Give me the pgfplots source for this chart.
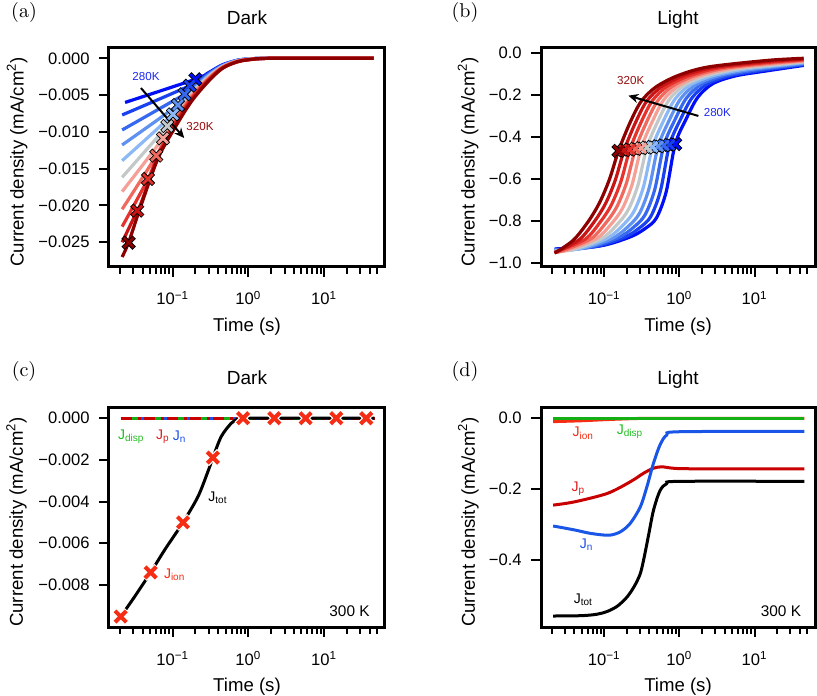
\documentclass[border=0pt]{standalone}
\usepackage{fontspec}
\setsansfont{Liberation Sans}
\usepackage{pgfplots}
\pgfplotsset{compat=1.18}
\usepackage{pgfplotstable}
\usetikzlibrary{arrows.meta}

\definecolor{c0}{RGB}{0,15,245}
\definecolor{c1}{RGB}{25,65,240}
\definecolor{c2}{RGB}{55,105,240}
\definecolor{c3}{RGB}{95,145,240}
\definecolor{c4}{RGB}{140,185,245}
\definecolor{c5}{RGB}{195,200,200}
\definecolor{c6}{RGB}{245,160,150}
\definecolor{c7}{RGB}{240,105,95}
\definecolor{c8}{RGB}{230,50,45}
\definecolor{c9}{RGB}{200,20,20}
\definecolor{c10}{RGB}{140,0,0}
\definecolor{kblue}{RGB}{30,40,240}
\definecolor{kred}{RGB}{150,10,10}
\definecolor{jgreen}{RGB}{20,175,20}
\definecolor{jp}{RGB}{200,0,0}
\definecolor{jion}{RGB}{245,45,20}
\definecolor{jblue}{RGB}{25,85,230}
\definecolor{tgreen}{RGB}{30,190,30}
\definecolor{tred}{RGB}{220,30,30}
\definecolor{tblue}{RGB}{30,80,230}

\tikzset{
  klab/.style={font=\sffamily\fontsize{5.8}{7}\selectfont},
  jlab/.style={font=\sffamily\fontsize{7}{8}\selectfont},
  tlab/.style={font=\sffamily\fontsize{7.7}{9}\selectfont, anchor=east},
  plab/.style={font=\fontsize{10}{12}\selectfont},
}

\pgfplotsset{
  colormap={tw}{rgb255=(0,15,245) rgb255=(25,65,240) rgb255=(55,105,240)
    rgb255=(95,145,240) rgb255=(140,185,245) rgb255=(195,200,200)
    rgb255=(245,160,150) rgb255=(240,105,95) rgb255=(230,50,45)
    rgb255=(200,20,20) rgb255=(140,0,0)},
  igorpanel/.style={
    scale only axis,
    height=109.5pt,
    xmin=0.01442, xmax=63.7,
    xtick={0.1,1,10},
    xticklabels={10\textsuperscript{−1},10\textsuperscript{0},10\textsuperscript{1}},
    minor xtick={0.02,0.03,0.04,0.05,0.06,0.07,0.08,0.09,0.2,0.3,0.4,0.5,0.6,0.7,0.8,0.9,2,3,4,5,6,7,8,9,20,30,40,50},
    tick align=inside, xtick pos=left, ytick pos=left,
    major tick length=-5pt, minor tick length=-3.5pt,
    every tick/.append style={black, line width=1pt},
    axis line style={line width=1.5pt},
    tick label style={font=\sffamily\fontsize{8.3}{10}\selectfont},
    xticklabel style={anchor=base, yshift=-19pt},
    yticklabel style={anchor=east, inner sep=0pt, xshift=-9.5pt},
    scaled y ticks=false,
    label style={font=\sffamily\fontsize{9.3}{11}\selectfont},
    xlabel={Time (s)},
    xlabel style={at={(axis description cs:0.5,-0.295)}, anchor=base},
    ylabel={Current density (mA/cm\textsuperscript{2})},
    title style={font=\sffamily\fontsize{9.5}{11}\selectfont,
      at={(axis description cs:0.5,1)}, anchor=base, yshift=5.65pt},
  },
  tcurve/.style={line width=1.6pt, smooth, tension=0.5},
}

\pgfplotstableread{
t y c
0.199 -0.00285 0
0.168 -0.00372 1
0.144 -0.00489 2
0.1175 -0.00635 3
0.101 -0.00761 4
0.0849 -0.0092 5
0.0745 -0.01087 6
0.0607 -0.01323 7
0.0472 -0.0164 8
0.0341 -0.0207 9
0.0262 -0.02505 10
}\marksA

\pgfplotstableread{
t y c
0.879 -0.433 0
0.739 -0.436 1
0.621 -0.439 2
0.522 -0.443 3
0.439 -0.446 4
0.369 -0.449 5
0.310 -0.452 6
0.2607 -0.455 7
0.2192 -0.459 8
0.1842 -0.462 9
0.1549 -0.465 10
}\marksB

\begin{document}
\begin{tikzpicture}
\path[use as bounding box] (0,0) rectangle (408.5pt,347.5pt);

% (a) dark, temperature series
\begin{axis}[xmode=log, igorpanel, at={(54.5pt,214pt)}, anchor=south west, width=138pt,
  ymin=-0.02836, ymax=0.0014,
  ytick={-0.025,-0.02,-0.015,-0.01,-0.005,0},
  yticklabels={−0.025,−0.020,−0.015,−0.010,−0.005,0.000},
  ylabel style={at={(axis description cs:-0.333,0.48)}, anchor=center},
  title={Dark}]
\addplot[tcurve, c0] coordinates {(0.0235,-0.0060) (0.199,-0.00285) (0.292,-0.0020) (0.45,-0.0009) (0.7,-0.0003) (1.0,-0.0001) (2,0) (45,0)};
\addplot[tcurve, c1] coordinates {(0.0215,-0.0077) (0.168,-0.00372) (0.292,-0.00212) (0.45,-0.00095) (0.7,-0.0003) (1,-0.0001) (2,0) (45,0)};
\addplot[tcurve, c2] coordinates {(0.0215,-0.00974) (0.144,-0.00489) (0.176,-0.0042) (0.292,-0.00224) (0.45,-0.0010) (0.7,-0.0003) (1,-0.0001) (2,0) (45,0)};
\addplot[tcurve, c3] coordinates {(0.0215,-0.01178) (0.1175,-0.00635) (0.176,-0.0045) (0.292,-0.00236) (0.45,-0.00105) (0.7,-0.0003) (1,-0.0001) (2,0) (45,0)};
\addplot[tcurve, c4] coordinates {(0.0215,-0.01391) (0.101,-0.00761) (0.176,-0.0047) (0.292,-0.00248) (0.45,-0.0011) (0.7,-0.0004) (1,-0.0001) (2,0) (45,0)};
\addplot[tcurve, c5] coordinates {(0.0215,-0.01617) (0.0849,-0.0092) (0.106,-0.0080) (0.176,-0.0049) (0.292,-0.0026) (0.45,-0.00115) (0.7,-0.0004) (1,-0.00015) (2,0) (45,0)};
\addplot[tcurve, c6] coordinates {(0.0215,-0.01812) (0.0745,-0.01087) (0.106,-0.0083) (0.176,-0.0051) (0.292,-0.00272) (0.45,-0.0012) (0.7,-0.0004) (1,-0.00015) (2,0) (45,0)};
\addplot[tcurve, c7] coordinates {(0.0215,-0.02052) (0.0607,-0.01323) (0.106,-0.0086) (0.176,-0.0053) (0.292,-0.00284) (0.45,-0.00125) (0.7,-0.0004) (1,-0.00015) (2,0) (45,0)};
\addplot[tcurve, c8] coordinates {(0.0215,-0.02288) (0.0472,-0.0164) (0.064,-0.0131) (0.106,-0.0089) (0.176,-0.0055) (0.292,-0.00296) (0.45,-0.0013) (0.7,-0.0005) (1,-0.0002) (2,0) (45,0)};
\addplot[tcurve, c9] coordinates {(0.0215,-0.0250) (0.0341,-0.0207) (0.0385,-0.0196) (0.064,-0.0134) (0.106,-0.0092) (0.176,-0.0057) (0.292,-0.00308) (0.45,-0.00135) (0.7,-0.0005) (1,-0.0002) (2,0) (45,0)};
\addplot[tcurve, c10] coordinates {(0.0215,-0.0270) (0.0262,-0.0250) (0.0385,-0.0199) (0.064,-0.0136) (0.106,-0.0095) (0.176,-0.0059) (0.292,-0.0032) (0.45,-0.0014) (0.7,-0.0005) (1,-0.0002) (2,0) (45,0)};
\addplot[only marks, mark=x, mark size=3.9pt, mark options={line width=2.3pt, draw=black}] table[x=t, y=y] {\marksA};
\addplot[scatter, only marks, mark=x, mark size=3.5pt, colormap name=tw,
  point meta=explicit, point meta min=0, point meta max=10,
  scatter/use mapped color={draw=mapped color},
  mark options={line width=1.4pt}] table[x=t, y=y, meta=c] {\marksA};
\draw[line width=1pt, -{Stealth[length=5pt,width=4.5pt]}] (axis cs:0.0381,-0.00404) -- (axis cs:0.142,-0.01083);
\node[klab, text=kblue] at (axis cs:0.0444,-0.00254) {280K};
\node[klab, text=kred] at (axis cs:0.2296,-0.00933) {320K};
\end{axis}

% (b) light, temperature series
\begin{axis}[xmode=log, igorpanel, at={(270.5pt,214pt)}, anchor=south west, width=137pt,
  ymin=-1.018, ymax=0.025,
  ytick={-1,-0.8,-0.6,-0.4,-0.2,0},
  yticklabels={−1.0,−0.8,−0.6,−0.4,−0.2,0.0},
  ylabel style={at={(axis description cs:-0.266,0.48)}, anchor=center},
  title={Light}]
\addplot[tcurve, c0] coordinates {(0.0219,-0.932) (0.0879,-0.918) (0.221,-0.875) (0.350,-0.835) (0.494,-0.785) (0.667,-0.660) (0.879,-0.433) (1.242,-0.310) (1.754,-0.210) (2.780,-0.145) (5.546,-0.108) (13.93,-0.085) (45,-0.058)};
\addplot[tcurve, c1] coordinates {(0.0219,-0.934) (0.0739,-0.922) (0.1856,-0.877) (0.294,-0.832) (0.4155,-0.778) (0.561,-0.654) (0.739,-0.436) (1.044,-0.312) (1.474,-0.212) (2.336,-0.147) (4.663,-0.108) (11.71,-0.083) (45,-0.0546)};
\addplot[tcurve, c2] coordinates {(0.0219,-0.936) (0.0621,-0.925) (0.156,-0.878) (0.247,-0.828) (0.349,-0.770) (0.471,-0.648) (0.621,-0.439) (0.877,-0.315) (1.239,-0.214) (1.965,-0.148) (3.921,-0.107) (9.845,-0.081) (45,-0.0512)};
\addplot[tcurve, c3] coordinates {(0.0219,-0.938) (0.0522,-0.929) (0.131,-0.880) (0.208,-0.825) (0.294,-0.763) (0.396,-0.642) (0.522,-0.443) (0.7375,-0.317) (1.042,-0.216) (1.651,-0.150) (3.295,-0.107) (8.276,-0.079) (45,-0.0478)};
\addplot[tcurve, c4] coordinates {(0.0219,-0.940) (0.0439,-0.933) (0.110,-0.881) (0.1747,-0.821) (0.247,-0.755) (0.333,-0.636) (0.439,-0.446) (0.620,-0.319) (0.876,-0.218) (1.388,-0.151) (2.769,-0.107) (6.957,-0.077) (15,-0.0634) (45,-0.0444)};
\addplot[tcurve, c5] coordinates {(0.0219,-0.942) (0.0369,-0.9365) (0.0927,-0.8825) (0.147,-0.8175) (0.2075,-0.7475) (0.280,-0.630) (0.369,-0.449) (0.521,-0.3215) (0.736,-0.220) (1.167,-0.1525) (2.328,-0.1065) (5.848,-0.075) (15,-0.0585) (45,-0.041)};
\addplot[tcurve, c6] coordinates {(0.0219,-0.944) (0.0310,-0.940) (0.0779,-0.884) (0.1235,-0.814) (0.1744,-0.740) (0.2353,-0.624) (0.310,-0.452) (0.438,-0.324) (0.619,-0.222) (0.981,-0.154) (1.957,-0.106) (4.915,-0.073) (15,-0.0536) (45,-0.0376)};
\addplot[tcurve, c7] coordinates {(0.0219,-0.946) (0.0261,-0.944) (0.0655,-0.8855) (0.1038,-0.8105) (0.1466,-0.7325) (0.1978,-0.618) (0.2607,-0.455) (0.368,-0.326) (0.520,-0.224) (0.8245,-0.1555) (1.645,-0.106) (4.132,-0.071) (15,-0.0487) (45,-0.0342)};
\addplot[tcurve, c8] coordinates {(0.0219,-0.948) (0.0551,-0.887) (0.0873,-0.807) (0.1233,-0.725) (0.1663,-0.612) (0.2192,-0.459) (0.310,-0.328) (0.437,-0.226) (0.693,-0.157) (1.383,-0.106) (3.474,-0.069) (15,-0.0438) (45,-0.0308)};
\addplot[tcurve, c9] coordinates {(0.0219,-0.950) (0.0463,-0.8885) (0.0733,-0.8035) (0.1036,-0.7175) (0.1398,-0.606) (0.1842,-0.462) (0.260,-0.331) (0.368,-0.228) (0.583,-0.1585) (1.163,-0.105) (2.920,-0.067) (15,-0.0389) (45,-0.0274)};
\addplot[tcurve, c10] coordinates {(0.0219,-0.952) (0.0389,-0.890) (0.0617,-0.800) (0.0871,-0.710) (0.1175,-0.600) (0.1549,-0.465) (0.2188,-0.333) (0.309,-0.230) (0.490,-0.160) (0.977,-0.105) (2.455,-0.065) (15,-0.034) (45,-0.024)};
\addplot[only marks, mark=x, mark size=3.9pt, mark options={line width=2.3pt, draw=black}] table[x=t, y=y] {\marksB};
\addplot[scatter, only marks, mark=x, mark size=3.5pt, colormap name=tw,
  point meta=explicit, point meta min=0, point meta max=10,
  scatter/use mapped color={draw=mapped color},
  mark options={line width=1.4pt}] table[x=t, y=y, meta=c] {\marksB};
\draw[line width=1pt, -{Stealth[length=5pt,width=4.5pt]}] (axis cs:1.79,-0.2986) -- (axis cs:0.2094,-0.2019);
\node[klab, text=kred] at (axis cs:0.2256,-0.132) {320K};
\node[klab, text=kblue] at (axis cs:3.2,-0.283) {280K};
\end{axis}

% (c) dark, components at 300 K
\begin{axis}[xmode=log, igorpanel, at={(54.5pt,34pt)}, anchor=south west, width=138pt,
  ymin=-0.01002, ymax=0.00049,
  ytick={-0.008,-0.006,-0.004,-0.002,0},
  yticklabels={−0.008,−0.006,−0.004,−0.002,0.000},
  ylabel style={at={(axis description cs:-0.335,0.48)}, anchor=center},
  title={Dark}]
\addplot[jblue, line width=1.5pt] coordinates {(0.0206,0) (46,0)};
\addplot[jp, line width=1.5pt, dash pattern=on 10pt off 1.5pt] coordinates {(0.0206,0) (46,0)};
\addplot[jgreen, line width=1.5pt, dash pattern=on 3pt off 8.5pt, dash phase=-5.5pt] coordinates {(0.0206,0) (46,0)};
\addplot[black, line width=1.5pt, smooth, tension=0.5] coordinates {(0.0206,-0.00952) (0.0315,-0.00856) (0.0512,-0.0074) (0.0784,-0.00632) (0.137,-0.0050) (0.216,-0.00376) (0.292,-0.00256) (0.34,-0.00189) (0.438,-0.00088) (0.594,-0.00024) (0.72,-0.00005) (0.85,0) (2,0) (46,0)};
\addplot[only marks, mark=x, mark size=4.4pt, mark options={line width=3.2pt, draw=white}] coordinates {(0.0206,-0.00952) (0.0512,-0.0074) (0.137,-0.0050) (0.34,-0.00189) (0.85,0) (2.2,0) (5.7,0) (14.5,0) (36,0)};
\addplot[only marks, mark=x, mark size=4pt, mark options={line width=2pt, draw=jion}] coordinates {(0.0206,-0.00952) (0.0512,-0.0074) (0.137,-0.0050) (0.34,-0.00189) (0.85,0) (2.2,0) (5.7,0) (14.5,0) (36,0)};
\node[jlab, text=tgreen] at (axis cs:0.0284,-0.00088) {J\textsubscript{disp}};
\node[jlab, text=tred] at (axis cs:0.0744,-0.00088) {J\textsubscript{p}};
\node[jlab, text=tblue] at (axis cs:0.1237,-0.00088) {J\textsubscript{n}};
\node[jlab, text=black] at (axis cs:0.3967,-0.00384) {J\textsubscript{tot}};
\node[jlab, text=jion] at (axis cs:0.1063,-0.00752) {J\textsubscript{ion}};
\node[tlab] at (rel axis cs:0.97,0.07) {300 K};
\end{axis}

% (d) light, components at 300 K
\begin{axis}[xmode=log, igorpanel, at={(270.5pt,34pt)}, anchor=south west, width=137pt,
  ymin=-0.589, ymax=0.029,
  ytick={-0.4,-0.2,0},
  yticklabels={−0.4,−0.2,0.0},
  ylabel style={at={(axis description cs:-0.265,0.48)}, anchor=center},
  title={Light}]
\addplot[jion, line width=1.5pt, smooth] coordinates {(0.0209,-0.0095) (0.05,-0.007) (0.1,-0.004) (0.2,-0.0015) (0.3,-0.0005) (0.5,0) (46,0)};
\addplot[jgreen, line width=1.5pt] coordinates {(0.0209,0) (46,0)};
\addplot[jp, line width=1.5pt, smooth, tension=0.5] coordinates {(0.0209,-0.245) (0.04,-0.236) (0.11,-0.212) (0.223,-0.179) (0.334,-0.155) (0.452,-0.141) (0.583,-0.137) (0.83,-0.141) (1.5,-0.1425) (46,-0.1425)};
\addplot[jblue, line width=1.5pt, smooth, tension=0.5] coordinates {(0.0209,-0.304) (0.04,-0.315) (0.0664,-0.325) (0.116,-0.330) (0.165,-0.320) (0.223,-0.296) (0.302,-0.250) (0.37,-0.193) (0.452,-0.127) (0.553,-0.075) (0.68,-0.047) (1.0,-0.038) (46,-0.037)};
\addplot[black, line width=1.5pt, smooth, tension=0.5] coordinates {(0.0209,-0.558) (0.05,-0.557) (0.08,-0.553) (0.11,-0.545) (0.15,-0.53) (0.2,-0.505) (0.25,-0.475) (0.3,-0.44) (0.334,-0.40) (0.389,-0.33) (0.452,-0.26) (0.55,-0.205) (0.68,-0.184) (1.0,-0.178) (46,-0.178)};
\node[jlab, text=jion] at (axis cs:0.0527,-0.0423) {J\textsubscript{ion}};
\node[jlab, text=tgreen] at (axis cs:0.220,-0.0378) {J\textsubscript{disp}};
\node[jlab, text=tred] at (axis cs:0.0452,-0.198) {J\textsubscript{p}};
\node[jlab, text=tblue] at (axis cs:0.0585,-0.358) {J\textsubscript{n}};
\node[jlab, text=black] at (axis cs:0.0527,-0.513) {J\textsubscript{tot}};
\node[tlab] at (rel axis cs:0.975,0.074) {300 K};
\end{axis}

\node[plab] at (12pt,341pt) {(a)};
\node[plab] at (232.5pt,341pt) {(b)};
\node[plab] at (12pt,161.6pt) {(c)};
\node[plab] at (232.5pt,161.6pt) {(d)};
\end{tikzpicture}
\end{document}
